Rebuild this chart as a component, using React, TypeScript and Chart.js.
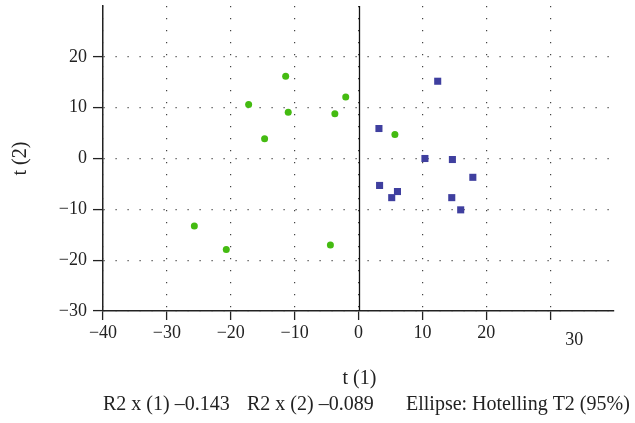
import React, { useEffect, useRef } from "react";
import { Chart, registerables } from "chart.js";

Chart.register(...registerables);

const groupA: { x: number; y: number }[] = [
  { x: -11.4, y: 16.2 },
  { x: -17.2, y: 10.6 },
  { x: -11.0, y: 9.1 },
  { x: -14.7, y: 3.9 },
  { x: -2.0, y: 12.1 },
  { x: -3.7, y: 8.8 },
  { x: 5.7, y: 4.7 },
  { x: -25.7, y: -13.3 },
  { x: -20.7, y: -17.9 },
  { x: -4.4, y: -17.0 },
];

const groupB: { x: number; y: number }[] = [
  { x: 12.4, y: 15.2 },
  { x: 3.2, y: 5.9 },
  { x: 10.4, y: 0.0 },
  { x: 14.7, y: -0.2 },
  { x: 17.9, y: -3.7 },
  { x: 3.3, y: -5.3 },
  { x: 6.1, y: -6.5 },
  { x: 5.2, y: -7.7 },
  { x: 14.6, y: -7.7 },
  { x: 16.0, y: -10.1 },
];

const xTicks = [-40, -30, -20, -10, 0, 10, 20, 30];
const yTicks = [-30, -20, -10, 0, 10, 20];
const xTitle = "t (1)";
const yTitle = "t (2)";
const footerParts = ["R2 x (1) \u20130.143", "R2 x (2) \u20130.089", "Ellipse: Hotelling T2 (95%)"];

const FONT = "'Liberation Serif', 'DejaVu Serif', serif";
const fmt = (v: number) => (v < 0 ? "\u2212" + Math.abs(v) : String(v));

export default function App() {
  const ref = useRef<HTMLCanvasElement | null>(null);
  useEffect(() => {
    document.body.style.margin = "0";
    const canvas = ref.current!;
    const overlay = {
      id: "overlay",
      afterDraw(chart: any) {
        const ctx = chart.ctx;
        const xs = chart.scales.x;
        const ys = chart.scales.y;
        const area = chart.chartArea;
        ctx.save();
        // solid zero line
        const x0 = Math.round(xs.getPixelForValue(0)) + 0.5;
        ctx.strokeStyle = "#111";
        ctx.lineWidth = 1.3;
        ctx.beginPath();
        ctx.moveTo(x0, area.top);
        ctx.lineTo(x0, area.bottom);
        ctx.stroke();
        // offset "30" label
        ctx.fillStyle = "#222";
        ctx.font = "18px " + FONT;
        ctx.textAlign = "center";
        ctx.textBaseline = "middle";
        ctx.fillText(fmt(30), xs.getPixelForValue(30) + 24, 340);
        // axis titles
        ctx.font = "20px " + FONT;
        ctx.fillText(xTitle, xs.getPixelForValue(0) + 1, 379);
        ctx.save();
        ctx.translate(21, ys.getPixelForValue(0));
        ctx.rotate(-Math.PI / 2);
        ctx.fillText(yTitle, 0, 0);
        ctx.restore();
        ctx.textAlign = "left";
        const fx = [103, 247, 406];
        footerParts.forEach((t, i) => ctx.fillText(t, fx[i], 405));
        ctx.restore();
      },
    };
    const chart = new Chart(canvas, {
      type: "scatter",
      data: {
        datasets: [
          {
            data: groupA,
            pointStyle: "circle",
            pointRadius: 3.5,
            backgroundColor: "#44bb11",
            borderColor: "#44bb11",
            borderWidth: 0,
          },
          {
            data: groupB,
            pointStyle: "rect",
            pointRadius: 5,
            backgroundColor: "#3f3f9f",
            borderColor: "#3f3f9f",
            borderWidth: 0,
          },
        ],
      },
      options: {
        animation: false,
        responsive: false,
        layout: { padding: { top: 6, right: 21, left: 0, bottom: 0 } },
        plugins: { legend: { display: false }, tooltip: { enabled: false } },
        scales: {
          x: {
            type: "linear",
            min: -40,
            max: 40,
            afterBuildTicks: (s: any) => {
              s.ticks = xTicks.map((v) => ({ value: v }));
            },
            afterFit: (s: any) => {
              s.height = 112;
              s.paddingLeft = 0;
              s.paddingRight = 0;
            },
            ticks: {
              color: "#222",
              font: { family: FONT, size: 18 },
              padding: 2,
              maxRotation: 0,
              autoSkip: false,
              callback: (v: any) => (v === 30 ? "" : fmt(Number(v))),
            },
            grid: {
              color: "#444",
              lineWidth: 1.2,
              tickColor: "#222",
              tickBorderDash: [],
              tickLength: 9,
              tickWidth: 1.3,
            },
            border: { display: true, color: "#222", width: 1.5, dash: [1.2, 10.8] },
          },
          y: {
            type: "linear",
            min: -30,
            max: 30,
            afterBuildTicks: (s: any) => {
              s.ticks = yTicks.map((v) => ({ value: v }));
            },
            afterFit: (s: any) => {
              s.width = 103;
              s.paddingTop = 0;
              s.paddingBottom = 0;
            },
            ticks: {
              color: "#222",
              font: { family: FONT, size: 18 },
              padding: 6,
              autoSkip: false,
              callback: (v: any) => fmt(Number(v)),
            },
            grid: {
              color: "#444",
              lineWidth: 1.2,
              tickColor: "#222",
              tickBorderDash: [],
              tickLength: 10,
              tickWidth: 1.3,
            },
            border: { display: true, color: "#222", width: 1.5, dash: [1.2, 10.8] },
          },
        },
      },
      plugins: [overlay],
    } as any);
    return () => chart.destroy();
  }, []);
  return (
    <div style={{ position: "absolute", left: 0, top: 0, width: 635, height: 423 }}>
      <canvas ref={ref} width={635} height={423} style={{ width: 635, height: 423, display: "block" }} />
    </div>
  );
}
